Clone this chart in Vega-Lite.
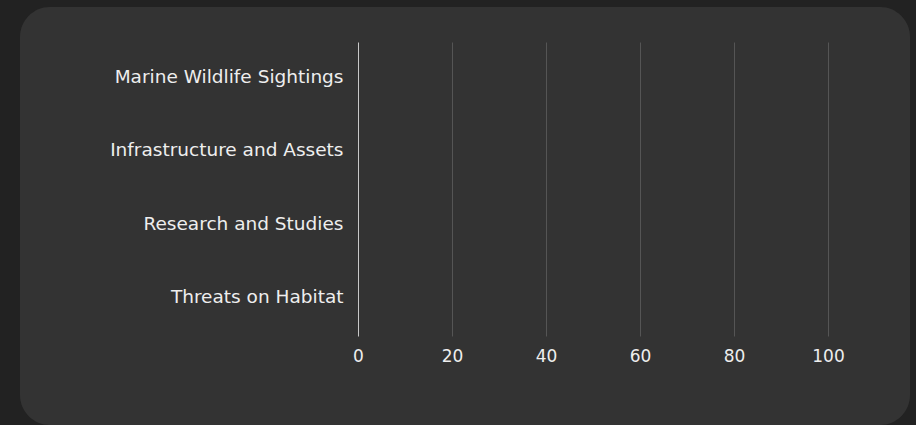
{
  "$schema": "https://vega.github.io/schema/vega-lite/v6.json",
  "width": 890,
  "height": 418,
  "autosize": {"type": "none"},
  "padding": {"left": 20, "top": 7, "right": 6, "bottom": 0},
  "background": "#222222",
  "config": {
    "view": {"fill": "#333333", "stroke": null, "cornerRadius": 30},
    "font": "DejaVu Sans"
  },
  "data": {
    "values": [
      {"category": "Marine Wildlife Sightings", "value": 0},
      {"category": "Infrastructure and Assets", "value": 0},
      {"category": "Research and Studies", "value": 0},
      {"category": "Threats on Habitat", "value": 0}
    ]
  },
  "mark": {"type": "bar", "color": "#4e79a7"},
  "encoding": {
    "y": {
      "field": "category",
      "type": "nominal",
      "sort": null,
      "scale": {"paddingInner": 0, "paddingOuter": 0.8435, "align": 0.2823},
      "axis": {
        "title": null,
        "orient": "left",
        "offset": -338,
        "domain": false,
        "ticks": false,
        "grid": false,
        "labelPadding": 15,
        "labelFontSize": 18.5,
        "labelFont": "DejaVu Sans",
        "labelColor": "#eeeeee",
        "labelLimit": 400,
        "labelOffset": -2
      }
    },
    "x": {
      "field": "value",
      "type": "quantitative",
      "scale": {"domain": [-71.915, 117.447], "nice": false, "zero": false},
      "axis": {
        "title": null,
        "values": [0, 20, 40, 60, 80, 100],
        "grid": false,
        "domain": false,
        "offset": -89,
        "tickSize": -294,
        "tickColor": {"condition": {"test": "datum.value === 0", "value": "#c8c8c8"}, "value": "#555555"},
        "labelPadding": 306,
        "labelFontSize": 17,
        "labelFont": "DejaVu Sans",
        "labelColor": "#eeeeee"
      }
    }
  }
}
